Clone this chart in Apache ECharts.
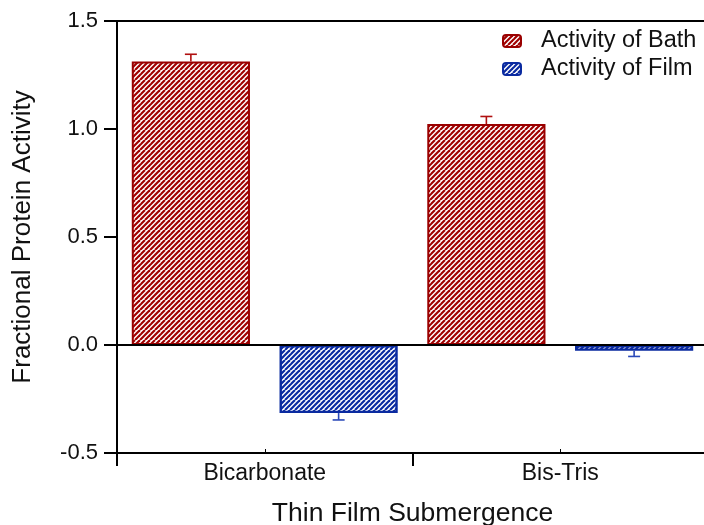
<!DOCTYPE html>
<html>
<head>
<meta charset="utf-8">
<script src="https://cdn.jsdelivr.net/npm/echarts@6/dist/echarts.min.js"></script>
<style>html,body{margin:0;padding:0;background:#fff;}#c{width:704px;height:525px;}</style>
</head>
<body>
<div id="c"></div>
<script>
const categories = ['Bicarbonate', 'Bis-Tris'];
const bathValues = [1.313, 1.023];
const bathErrors = [0.033, 0.035];
const filmValues = [-0.315, -0.027];
const filmErrors = [0.032, 0.026];
const yTicks = [-0.5, 0.0, 0.5, 1.0, 1.5];

const FONT = "'Liberation Sans', Arial, sans-serif";
const RED = '#a00000', RED_BORDER = '#9a0000', RED_ERR = '#b01010';
const BLUE = '#0a2aa0', BLUE_BORDER = '#0a2aa0', BLUE_ERR = '#2a48b8';

function stripes(color) {
  const c = document.createElement('canvas');
  c.width = 10; c.height = 10;
  const g = c.getContext('2d');
  g.fillStyle = '#ffffff';
  g.fillRect(0, 0, 10, 10);
  g.strokeStyle = color;
  g.lineWidth = 2.2;
  for (let k = -20; k <= 20; k += 5) {
    g.beginPath(); g.moveTo(k, 10); g.lineTo(k + 10, 0); g.stroke();
  }
  return c;
}

const GAP = 0.10, BGAP = 0.25;
function errRender(idx, sign, color) {
  return function (params, api) {
    const ci = api.value(0), v = api.value(1), e = api.value(2);
    const bandW = api.size([1, 0])[0];
    const w = bandW * (1 - GAP) / (2 + BGAP);
    const off = (idx === 0 ? -1 : 1) * (w / 2 + BGAP * w / 2);
    const p0 = api.coord([ci, v]);
    const p1 = api.coord([ci, v + sign * e]);
    const x = p0[0] + off;
    const style = { stroke: color, lineWidth: 1.6 };
    return {
      type: 'group',
      children: [
        { type: 'line', shape: { x1: x, y1: p0[1], x2: x, y2: p1[1] }, style: style },
        { type: 'line', shape: { x1: x - 6, y1: p1[1], x2: x + 6, y2: p1[1] }, style: style }
      ]
    };
  };
}

const chart = echarts.init(document.getElementById('c'), null, { renderer: 'canvas' });
chart.setOption({
  animation: false,
  backgroundColor: '#ffffff',
  textStyle: { fontFamily: FONT },
  grid: { left: 117, top: 21, width: 591, height: 432, containLabel: false, outerBoundsMode: 'none' },
  legend: {
    orient: 'vertical', left: 497, top: 24,
    itemWidth: 18, itemHeight: 12, itemGap: 4,
    data: ['Activity of Bath', 'Activity of Film'],
    textStyle: { fontFamily: FONT, fontSize: 23.5, color: '#111', padding: [0, 0, 0, 15] }
  },
  xAxis: [
    {
      type: 'category', data: categories, position: 'bottom',
      axisLine: { onZero: false, lineStyle: { color: '#000', width: 2 } },
      axisTick: { show: true, inside: false, length: 13, lineStyle: { color: '#000', width: 2 } },
      axisLabel: { fontSize: 23, color: '#111', margin: 9, fontFamily: FONT },
      name: 'Thin Film Submergence', nameLocation: 'middle', nameGap: 47,
      nameTextStyle: { fontSize: 26.5, color: '#111', fontFamily: FONT },
      splitLine: { show: false }
    },
    {
      type: 'category', data: categories, position: 'bottom',
      axisLine: { show: false, onZero: false },
      axisTick: { show: true, inside: true, alignWithLabel: true, length: 4, lineStyle: { color: '#000', width: 1 } },
      axisLabel: { show: false }, splitLine: { show: false }
    },
    {
      type: 'category', data: categories, position: 'top',
      axisLine: { onZero: false, lineStyle: { color: '#000', width: 2 } },
      axisTick: { show: false }, axisLabel: { show: false }, splitLine: { show: false }
    }
  ],
  yAxis: {
    type: 'value', min: yTicks[0], max: yTicks[yTicks.length - 1], interval: 0.5,
    axisLine: { show: true, onZero: false, lineStyle: { color: '#000', width: 2 } },
    axisTick: { show: true, inside: false, length: 13, lineStyle: { color: '#000', width: 2 } },
    axisLabel: { fontSize: 22, color: '#111', margin: 19, fontFamily: FONT, formatter: v => v.toFixed(1) },
    splitLine: { show: false },
    name: 'Fractional Protein Activity', nameLocation: 'middle', nameGap: 81,
    nameTextStyle: { fontSize: 26, color: '#111', fontFamily: FONT }
  },
  series: [
    {
      name: 'Activity of Bath', type: 'bar', data: bathValues,
      barGap: (BGAP * 100) + '%', barCategoryGap: (GAP * 100) + '%',
      itemStyle: { color: { image: stripes(RED), repeat: 'repeat' }, borderColor: RED_BORDER, borderWidth: 2 },
      markLine: {
        silent: true, symbol: 'none', label: { show: false },
        lineStyle: { color: '#000', width: 2, type: 'solid' },
        data: [{ yAxis: 0 }]
      },
      z: 2
    },
    {
      name: 'Activity of Film', type: 'bar', data: filmValues,
      barGap: (BGAP * 100) + '%', barCategoryGap: (GAP * 100) + '%',
      itemStyle: { color: { image: stripes(BLUE), repeat: 'repeat' }, borderColor: BLUE_BORDER, borderWidth: 2.4 },
      z: 3
    },
    {
      type: 'custom', renderItem: errRender(0, 1, RED_ERR),
      data: bathValues.map((v, i) => [i, v, bathErrors[i]]),
      encode: { x: 0, y: 1 }, z: 4
    },
    {
      type: 'custom', renderItem: errRender(1, -1, BLUE_ERR),
      data: filmValues.map((v, i) => [i, v, filmErrors[i]]),
      encode: { x: 0, y: 1 }, z: 4
    }
  ]
});
</script>
</body>
</html>
